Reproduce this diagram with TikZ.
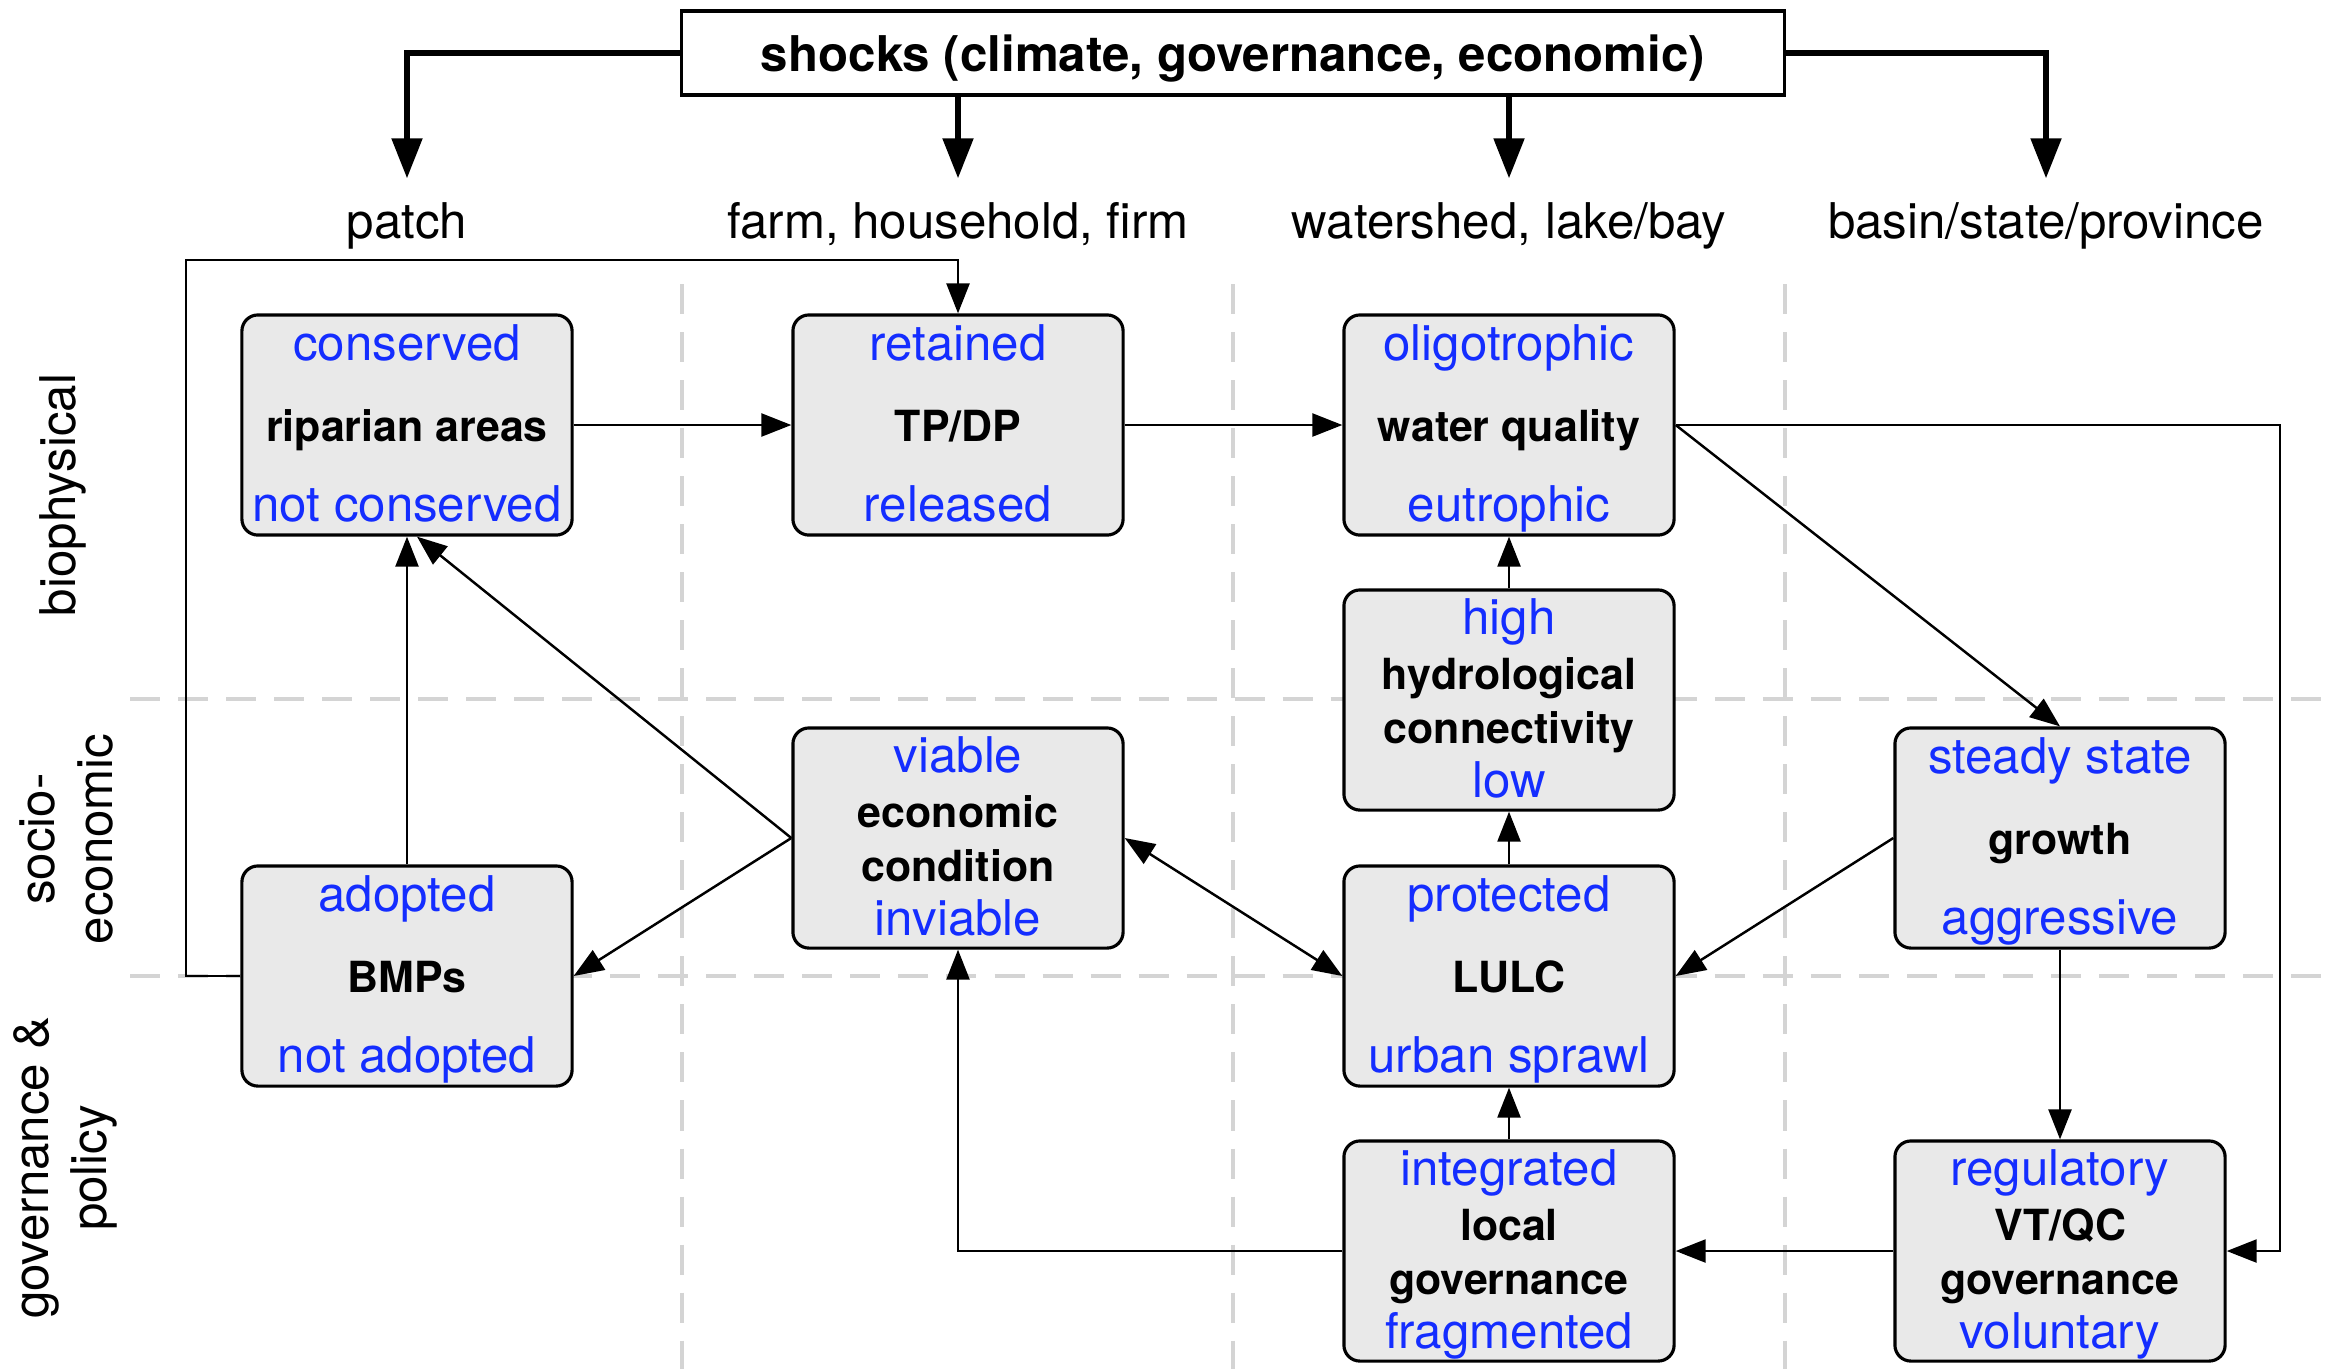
\documentclass[tikz,border=0pt]{standalone}
\usepackage{fontspec}
\setmainfont{TeX Gyre Heros}
\usetikzlibrary{arrows.meta}
\definecolor{stateblue}{RGB}{20,45,255}
\definecolor{boxfill}{RGB}{233,233,233}
\definecolor{gridgray}{RGB}{212,212,212}
\newcommand{\stlvl}[1]{\textcolor{stateblue}{\rule[-0.11cm]{0pt}{0.54cm}#1}}
\newcommand{\stvar}[1]{{\bfseries\fontsize{12.2}{14}\selectfont #1}}

\begin{document}
\begin{tikzpicture}[x=0.01cm,y=-0.01cm,
    >={Triangle[length=0.3cm,width=0.23cm]},
    state/.style={draw,line width=0.9pt,rounded corners=0.16cm,fill=boxfill,
      minimum width=3.3cm,minimum height=2.2cm,inner sep=0pt,align=center,
      font=\fontsize{14}{22.96}\selectfont},
    state4/.style={state,font=\fontsize{14}{15.37}\selectfont},
    scale label/.style={inner sep=0pt,text height=0.36cm,text depth=0.1cm,
      font=\fontsize{14}{17}\selectfont},
    dim label/.style={rotate=90,align=center,font=\fontsize{14}{16.5}\selectfont},
    grid line/.style={gridgray,line width=1.4pt,dash pattern=on 0.3cm off 0.18cm},
    flow/.style={line width=0.7pt,->},
    shock/.style={line width=1.5pt,-{Triangle[length=0.4cm,width=0.3cm]},shorten >=0.23cm}]
  \useasboundingbox (0,0) rectangle (2331,1369);

  % dimensions and scales
  \draw[grid line] (130,699) -- (2331,699);
  \draw[grid line] (130,976) -- (2331,976);
  \foreach \x in {682,1233,1785}
    \draw[grid line] (\x,284) -- (\x,1369);

  \node[dim label] (bio) at (63,495) {biophysical};
  \node[dim label] (socio) at (66,839) {socio-\\economic};
  \node[dim label] (gov) at (65,1168) {governance \&\\policy};

  \node[draw,line width=0.9pt,minimum width=11.03cm,minimum height=0.84cm,inner sep=0pt,
    text depth=0pt,font=\bfseries\fontsize{14}{17}\selectfont] (shocks) at (1233,53)
    {shocks (climate, governance, economic)};
  \node[scale label] (patch) at (407,225) {patch};
  \node[scale label] (farm) at (958,225) {farm, household, firm};
  \node[scale label] (shed) at (1509,225) {watershed, lake/bay};
  \node[scale label] (basin) at (2046,225) {basin/state/province};

  \draw[shock] (shocks.west) -| (patch.north);
  \draw[shock] (shocks.south -| farm.north) -- (farm.north);
  \draw[shock] (shocks.south -| shed.north) -- (shed.north);
  \draw[shock] (shocks.east) -| (basin.north);

  % states
  \node[state] (rip) at (407,425) {\stlvl{conserved}\\\stvar{riparian areas}\\\stlvl{not conserved}};
  \node[state] (tpdp) at (958,425) {\stlvl{retained}\\\stvar{TP/DP}\\\stlvl{released}};
  \node[state] (wq) at (1509,425) {\stlvl{oligotrophic}\\\stvar{water quality}\\\stlvl{eutrophic}};
  \node[state4] (hydro) at (1509,700) {\stlvl{high}\\\stvar{hydrological}\\\stvar{connectivity}\\\stlvl{low}};
  \node[state4] (econ) at (958,838) {\stlvl{viable}\\\stvar{economic}\\\stvar{condition}\\\stlvl{inviable}};
  \node[state] (growth) at (2060,838) {\stlvl{steady state}\\\stvar{growth}\\\stlvl{aggressive}};
  \node[state] (bmp) at (407,976) {\stlvl{adopted}\\\stvar{BMPs}\\\stlvl{not adopted}};
  \node[state] (lulc) at (1509,976) {\stlvl{protected}\\\stvar{LULC}\\\stlvl{urban sprawl}};
  \node[state4] (local) at (1509,1251) {\stlvl{integrated}\\\stvar{local}\\\stvar{governance}\\\stlvl{fragmented}};
  \node[state4] (vtqc) at (2060,1251) {\stlvl{regulatory}\\\stvar{VT/QC}\\\stvar{governance}\\\stlvl{voluntary}};

  % links
  \draw[flow] (rip) -- (tpdp);
  \draw[flow] (tpdp) -- (wq);
  \draw[flow] (bmp) -- (rip);
  \draw[flow] (econ.west) -- ([xshift=0.1cm]rip.south);
  \draw[flow] (econ.west) -- (bmp.east);
  \draw[flow,<->] (econ.east) -- (lulc.west);
  \draw[flow] (growth.west) -- (lulc.east);
  \draw[flow] (wq.east) -- (growth.north);
  \draw[flow] (growth) -- (vtqc);
  \draw[flow] (vtqc) -- (local);
  \draw[flow] (local) -- (lulc);
  \draw[flow] (lulc) -- (hydro);
  \draw[flow] (hydro) -- (wq);
  \draw[flow] (wq.east) -- (2280,425) |- (vtqc.east);
  \draw[flow] (local.west) -| (econ.south);
  \draw[flow] (bmp.west) -| (186,260) -| (tpdp.north);
\end{tikzpicture}
\end{document}
